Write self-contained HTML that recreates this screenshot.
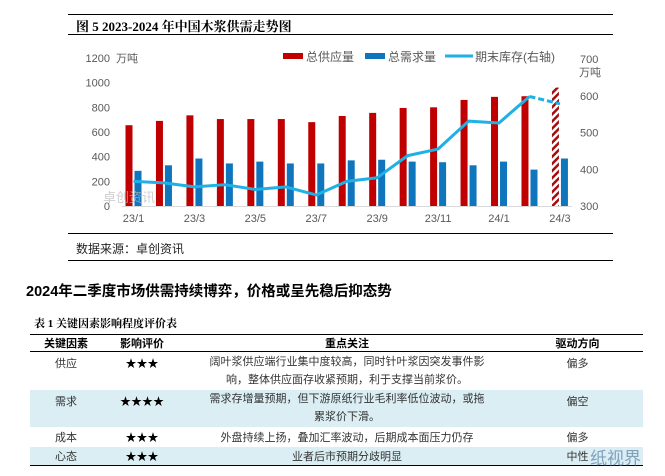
<!DOCTYPE html>
<html><head><meta charset="utf-8">
<style>
body{margin:0;width:665px;height:476px;background:#fff;position:relative;overflow:hidden;font-family:"Liberation Sans","Noto Sans CJK SC",sans-serif}
.abs{position:absolute}
table{border-collapse:collapse}
td{padding:0}
</style></head>
<body>
<div class="abs" style="left:68px;top:14px;width:545px;height:1px;background:#000"></div>
<div class="abs" style="left:76px;top:16px;font-size:13px;font-weight:bold;color:#000;font-family:'Liberation Serif','Noto Serif CJK SC',serif">图 5 2023-2024 年中国木浆供需走势图</div>
<div class="abs" style="left:68px;top:34px;width:545px;height:1px;background:#000"></div>

<svg class="abs" style="left:0;top:0" width="665" height="240">
<g id="chart"></g>
</svg>

<div class="abs" style="left:68px;top:233px;width:545px;height:1px;background:#000"></div>
<div class="abs" style="left:76px;top:240px;font-size:12px;color:#222">数据来源：卓创资讯</div>
<div class="abs" style="left:68px;top:260px;width:545px;height:1px;background:#000"></div>

<div class="abs" style="left:26px;top:280px;font-size:14.5px;font-weight:bold;color:#000">2024年二季度市场供需持续博弈，价格或呈先稳后抑态势</div>

<div class="abs" style="left:34px;top:315px;font-size:11px;font-weight:bold;color:#000;font-family:'Liberation Serif','Noto Serif CJK SC',serif">表 1 关键因素影响程度评价表</div>

<table class="abs" style="left:30px;top:334px;width:613px;font-size:11px;color:#333;border-top:1.5px solid #000;border-bottom:1.5px solid #000">
<tr style="height:17px;font-weight:bold;color:#000;border-bottom:1px solid #000">
<td style="width:72px;text-align:center">关键因素</td><td style="width:80px;text-align:center">影响评价</td><td style="width:330px;text-align:center">重点关注</td><td style="text-align:center">驱动方向</td></tr>
<tr style="height:38px"><td style="text-align:center;vertical-align:top;padding-top:3px">供应</td><td style="text-align:center;vertical-align:top;padding-top:3px;color:#000">★★★</td><td style="text-align:center;line-height:18px">阔叶浆供应端行业集中度较高，同时针叶浆因突发事件影<br>响，整体供应面存收紧预期，利于支撑当前浆价。</td><td style="text-align:center;vertical-align:top;padding-top:3px">偏多</td></tr>
<tr style="height:37px;background:#daeef3"><td style="text-align:center;vertical-align:top;padding-top:3px">需求</td><td style="text-align:center;vertical-align:top;padding-top:3px;color:#000">★★★★</td><td style="text-align:center;line-height:18px">需求存增量预期，但下游原纸行业毛利率低位波动，或拖<br>累浆价下滑。</td><td style="text-align:center;vertical-align:top;padding-top:3px">偏空</td></tr>
<tr style="height:20px"><td style="text-align:center">成本</td><td style="text-align:center;color:#000">★★★</td><td style="text-align:center">外盘持续上扬，叠加汇率波动，后期成本面压力仍存</td><td style="text-align:center">偏多</td></tr>
<tr style="height:19px;background:#daeef3"><td style="text-align:center">心态</td><td style="text-align:center;color:#000">★★★</td><td style="text-align:center">业者后市预期分歧明显</td><td style="text-align:center">中性</td></tr>
</table>
<div class="abs" style="left:590px;top:444px;font-size:17px;color:#6a8fb0;opacity:.8">纸视界</div>

<script>
const categories=["23/1","23/2","23/3","23/4","23/5","23/6","23/7","23/8","23/9","23/10","23/11","23/12","24/1","24/2","24/3"];
const supply=[655,690,735,705,705,705,680,730,755,795,800,860,885,890,960];
const demand=[285,330,385,345,360,345,345,370,375,360,355,330,360,295,385];
const inventory=[367,363,352,358,345,352,330,367,377,437,455,531,526,598,578];
const leftTicks=[0,200,400,600,800,1000,1200];
const rightTicks=[300,400,500,600,700];
const xLabelIdx=[0,2,4,6,8,10,12,14];
const NS="http://www.w3.org/2000/svg";
const g=document.getElementById('chart');
const x=i=>133.5+i*30.46;
const yL=v=>206-v/1200*148;
const yR=v=>206-(v-300)/400*147;
function el(t,a){const e=document.createElementNS(NS,t);for(const k in a)e.setAttribute(k,a[k]);g.appendChild(e);return e;}
const defs=el('defs',{});
defs.innerHTML='<pattern id="hatch" width="5" height="5" patternUnits="userSpaceOnUse" patternTransform="rotate(45)"><rect width="5" height="5" fill="#fff"/><rect width="2.5" height="5" fill="#a50d0d"/></pattern>';
el('line',{x1:122,y1:206.5,x2:572,y2:206.5,stroke:'#d9d9d9','stroke-width':1});
leftTicks.forEach(v=>{const t=el('text',{x:110,y:yL(v)+4,'text-anchor':'end','font-size':11,fill:'#595959'});t.textContent=v;
});
rightTicks.forEach(v=>{const t=el('text',{x:580,y:yR(v)+4,'font-size':11,fill:'#595959'});t.textContent=v;
});
let t=el('text',{x:116,y:62,'font-size':11,fill:'#595959'});t.textContent='万吨';

t=el('text',{x:579,y:76,'font-size':11,fill:'#595959'});t.textContent='万吨';

xLabelIdx.forEach(i=>{const l=el('text',{x:x(i),y:222,'text-anchor':'middle','font-size':11,fill:'#595959'});l.textContent=categories[i];
});
categories.forEach((c,i)=>{
 const last=i===categories.length-1;
 const r=el('rect',{x:x(i)-8,y:yL(supply[i]),width:7,height:206-yL(supply[i]),fill:last?'url(#hatch)':'#c00000'});
 
 const b=el('rect',{x:x(i)+1,y:yL(demand[i]),width:7,height:206-yL(demand[i]),fill:'#0f76bd'});
 
});
const n=inventory.length;
let d=inventory.slice(0,n-1).map((v,i)=>(i?'L':'M')+x(i)+','+yR(v)).join(' ');
let p=el('path',{d:d,fill:'none',stroke:'#1fb0e6','stroke-width':3,'stroke-linejoin':'round'});

p=el('path',{d:'M'+x(n-2)+','+yR(inventory[n-2])+' L'+x(n-1)+','+yR(inventory[n-1]),fill:'none',stroke:'#1fb0e6','stroke-width':3,'stroke-dasharray':'6,3'});

const lg=[['#c00000','总供应量',283,'rect'],['#0f76bd','总需求量',365,'rect'],['#1fb0e6','期末库存(右轴)',445,'line']];
lg.forEach(o=>{
 if(o[3]==='rect'){const s=el('rect',{x:o[2],y:53,width:20,height:6,fill:o[0]});}
 else{const s=el('line',{x1:o[2],y1:56,x2:o[2]+28,y2:56,stroke:o[0],'stroke-width':3});}
 const tt=el('text',{x:o[2]+(o[3]==='rect'?23:30),y:61,'font-size':12,fill:'#595959'});tt.textContent=o[1];
 
});
t=el('text',{x:103,y:202,'font-size':13,fill:'#bbb',opacity:.7});t.textContent='卓创资讯';

</script>
</body></html>
